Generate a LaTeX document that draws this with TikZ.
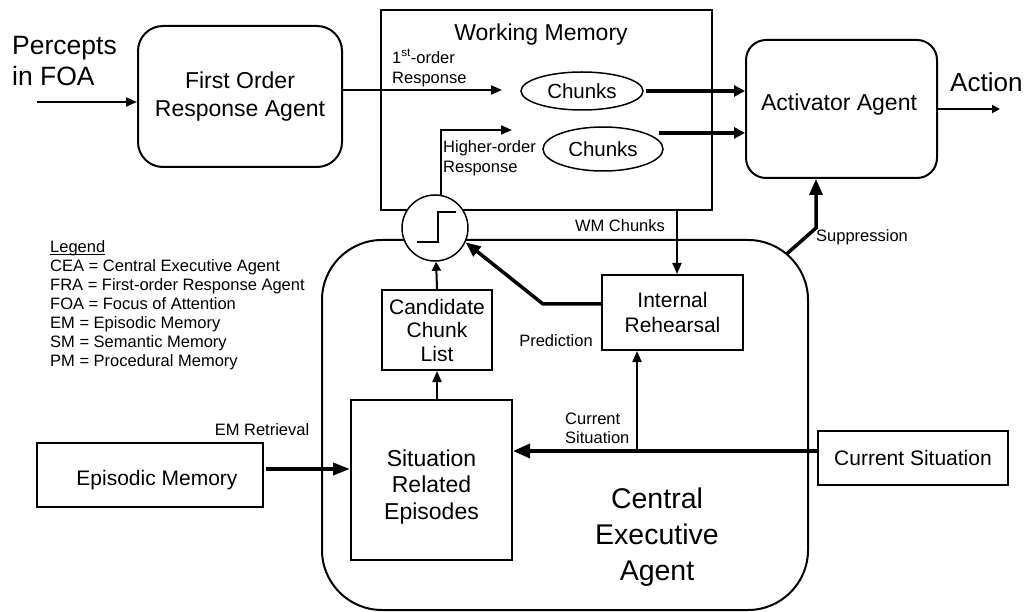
\documentclass[tikz,border=0pt]{standalone}
\usepackage{fontspec}
\setmainfont{Liberation Sans}
\usetikzlibrary{arrows.meta,shapes.geometric}
\newcommand\fsz[2]{\fontsize{#1pt}{#2pt}\selectfont}
\begin{document}
\begin{tikzpicture}[x=1pt,y=-1pt,
  box/.style={draw, line width=2pt, inner sep=0pt, align=center},
  rbox/.style={box, rounded corners=#1},
  larr/.style={line width=2pt, -{Triangle[length=11pt,width=9pt]}},
  harr/.style={line width=3.5pt, -{Triangle[length=15pt,width=12pt]}},
  lbl/.style={inner sep=0pt, align=left, font=\fsz{16.5}{20}},
  chunk/.style={draw, ellipse, line width=1.5pt, inner sep=0pt, font=\fsz{20.5}{24}},
  swshape/.style={circle, line width=1.5pt, minimum size=66pt, inner sep=0pt}]
\useasboundingbox (0,0) rectangle (1028,612);

% --- boxes ---
\node[rbox=25pt, minimum width=204pt, minimum height=141pt, font=\fsz{23}{28}] (fora) at (240,96.5) {First Order\\Response Agent};
\node[box, minimum width=331pt, minimum height=200pt] (wm) at (546.5,110) {};
\node[font=\fsz{23}{28}] (wmtitle) at (541,35) {Working Memory};
\node[chunk, minimum width=122pt, minimum height=38pt] (ch1) at (582,91) {Chunks};
\node[chunk, minimum width=120pt, minimum height=44pt] (ch2) at (603,149) {Chunks};
\node[rbox=20pt, minimum width=191pt, minimum height=138pt] (act) at (841.5,109) {};
\node[font=\fsz{23}{28}] (actt) at (839,105) {Activator Agent};
\node[rbox=60pt, minimum width=486pt, minimum height=370pt] (cea) at (565,425) {};
\node[align=center, font=\fsz{28.5}{36}] (ceat) at (657,537) {Central\\Executive\\Agent};
\node[box, minimum width=141pt, minimum height=75pt, font=\fsz{21}{25}] (ir) at (672.5,312.5) {Internal\\Rehearsal};
\node[box, minimum width=110pt, minimum height=80pt, font=\fsz{21}{23.5}] (ccl) at (437,330) {Candidate\\Chunk\\List};
\node[box, minimum width=161pt, minimum height=160pt] (sre) at (431.5,480) {};
\node[align=center, font=\fsz{23}{26.5}] (sret) at (431.5,487) {Situation\\Related\\Episodes};
\node[box, minimum width=226pt, minimum height=64pt] (em) at (150,475) {};
\node[font=\fsz{21}{25}] (emt) at (157,480) {Episodic Memory};
\node[box, minimum width=190pt, minimum height=54pt, font=\fsz{21}{25}] (cs) at (913,458) {Current Situation};
% threshold switch position (drawn last, on top)
\node[swshape] (sw) at (435,228) {};

% --- free texts ---
\node[inner sep=0pt, align=left, anchor=north west, font=\fsz{26.5}{31}] (perc) at (12,36) {Percepts\\in FOA};
\node[inner sep=0pt, anchor=base west, font=\fsz{26}{31}] (actn) at (950,92) {Action};
\node[lbl, anchor=north west, font=\fsz{16.5}{19}] (legend) at (50,241) {\underline{\vphantom{L}\smash{Legend}}\\CEA = Central Executive Agent\\FRA = First-order Response Agent\\FOA = Focus of Attention\\EM = Episodic Memory\\SM = Semantic Memory\\PM = Procedural Memory};
\node[lbl, anchor=west] (l1) at (392,68) {1\textsuperscript{st}-order\\Response};
\node[lbl, anchor=west] (l2) at (443,158) {Higher-order\\Response};
\node[lbl] (l3) at (620,226) {WM Chunks};
\node[lbl] (l4) at (556,341) {Prediction};
\node[lbl, anchor=west, font=\fsz{16.5}{19}] (l5) at (565,428) {Current\\Situation};
\node[lbl] (l6) at (262,430) {EM Retrieval};
\node[lbl, anchor=west] (l7) at (816,237) {Suppression};

% --- connectors ---
\coordinate (pin) at (37,102);
\draw[larr] (pin) -- (pin -| fora.west);
\coordinate (r1) at (502,90);
\draw[larr] (r1 -| fora.east) -- (r1);
\draw[harr, -{Triangle[length=11pt,width=11pt]}] ([xshift=2pt]ch1.east) -- (ch1.east -| act.west);
\draw[harr, -{Triangle[length=11pt,width=11pt]}] ([xshift=13pt]ch2.north east) -- (ch2.north east -| act.west);
\coordinate (r2) at (512,130);
\draw[larr] (sw.80) |- (r2);
\coordinate (wmc) at (677,0);
\draw[larr] (wmc |- wm.south) -- (wmc |- ir.north);
\coordinate (pk) at (543,304);
\draw[harr] (pk -| ir.west) -- (pk) -- (sw.-25);
\draw[larr, -{Triangle[length=9pt,width=9pt]}] (ccl.north) -- (sw);
\draw[larr] (ccl.south |- sre.north) -- (ccl.south);
\coordinate (emr) at (0,469);
\draw[harr, -{Triangle[length=17pt,width=12pt]}] ([xshift=2pt]emr -| em.east) -- (emr -| sre.west);
\coordinate (csl) at (0,451);
\draw[harr, -{Triangle[length=17pt,width=14pt]}] (csl -| cs.west) -- (csl -| sre.east);
\coordinate (br) at (637,451);
\draw[larr] (br) -- (br |- ir.south);
\coordinate (sp1) at (786.6,254);
\coordinate (sp2) at (816,228);
\draw[harr, -{Triangle[length=16pt,width=13pt]}] (sp1) -- (sp2) -- (sp2 |- act.south);
\coordinate (aout) at (1000,109);
\draw[line width=1.8pt, -{Triangle[length=8pt,width=8pt]}] (act.east) -- (aout);

% --- threshold switch on top ---
\node[swshape, draw, fill=white] (swc) at (sw) {};
\draw[line width=2pt] ([shift={(-18,14)}]swc.center) -- ++(21,0) -- ++(0,-30) -- ++(18,0);
\end{tikzpicture}
\end{document}
